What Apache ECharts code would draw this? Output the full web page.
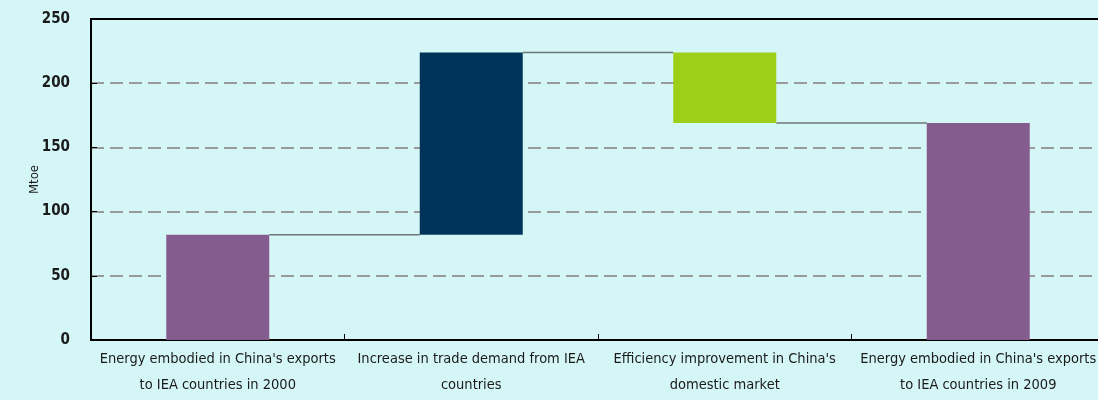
<!DOCTYPE html>
<html>
<head>
<meta charset="utf-8">
<script src="https://cdn.jsdelivr.net/npm/echarts@6/dist/echarts.min.js"></script>
<style>
  html, body { margin: 0; padding: 0; background: #d5f6f6; }
  #chart { width: 1098px; height: 400px; }
</style>
</head>
<body>
<div id="chart"></div>
<script>
// waterfall data (Mtoe)
const categories = [
  "Energy embodied in China's exports\nto IEA countries in 2000",
  "Increase in trade demand from IEA\ncountries",
  "Efficiency improvement in China's\ndomestic market",
  "Energy embodied in China's exports\nto IEA countries in 2009"
];
const baseValues = [0, 82, 169, 0];
const barValues = [82, 142, 55, 169];
const connectorLevels = [82, 224, 169];
const barColors = ["#845c8d", "#003459", "#9ecf18", "#845c8d"];

const font = "'Liberation Sans Narrow', 'DejaVu Sans Condensed', 'Roboto', sans-serif";
const barWidth = 103;

const chart = echarts.init(document.getElementById("chart"));

chart.setOption({
  backgroundColor: "#d5f6f6",
  animation: false,
  grid: { left: 91, top: 19, bottom: 60, width: 1014, outerBoundsMode: "none", containLabel: false },
  xAxis: [
    {
      type: "category",
      data: categories,
      axisLine: { lineStyle: { color: "#000", width: 2 } },
      axisTick: { show: true, inside: true, length: 6, lineStyle: { color: "#000", width: 1 } },
      axisLabel: {
        interval: 0,
        color: "#1a1a1a",
        fontFamily: font,
        fontSize: 14.5,
        lineHeight: 26,
        margin: 6
      }
    },
    {
      type: "category",
      position: "top",
      data: categories,
      axisLine: { lineStyle: { color: "#000", width: 2 } },
      axisTick: { show: false },
      axisLabel: { show: false }
    }
  ],
  yAxis: {
    type: "value",
    min: 0,
    max: 250,
    interval: 50,
    name: "Mtoe",
    nameLocation: "middle",
    nameGap: 50,
    nameMoveOverlap: false,
    nameTextStyle: { color: "#1a1a1a", fontFamily: font, fontSize: 13 },
    axisLine: { show: true, lineStyle: { color: "#000", width: 2 } },
    axisTick: { show: true, inside: true, length: 6, lineStyle: { color: "#000" } },
    axisLabel: { color: "#1a1a1a", fontFamily: font, fontWeight: "bold", fontSize: 15, margin: 21 },
    splitLine: {
      showMaxLine: false,
      lineStyle: { color: "#9a9a9a", width: 2, type: [13, 6] }
    }
  },
  series: [
    {
      type: "bar",
      stack: "w",
      barWidth: barWidth,
      itemStyle: { color: "transparent" },
      silent: true,
      data: baseValues
    },
    {
      type: "bar",
      stack: "w",
      barWidth: barWidth,
      data: barValues.map((v, i) => ({ value: v, itemStyle: { color: barColors[i] } }))
    },
    {
      type: "custom",
      coordinateSystem: "cartesian2d",
      encode: { x: 0, y: 1 },
      data: connectorLevels.map((v, i) => [i, v]),
      renderItem: function (params, api) {
        const p = api.coord([api.value(0), api.value(1)]);
        const step = api.size([1, 0])[0];
        return {
          type: "line",
          shape: { x1: p[0] + barWidth / 2, y1: p[1], x2: p[0] + step - barWidth / 2, y2: p[1] },
          style: { stroke: "#6e7575", lineWidth: 1.5 }
        };
      }
    }
  ]
});
</script>
</body>
</html>
